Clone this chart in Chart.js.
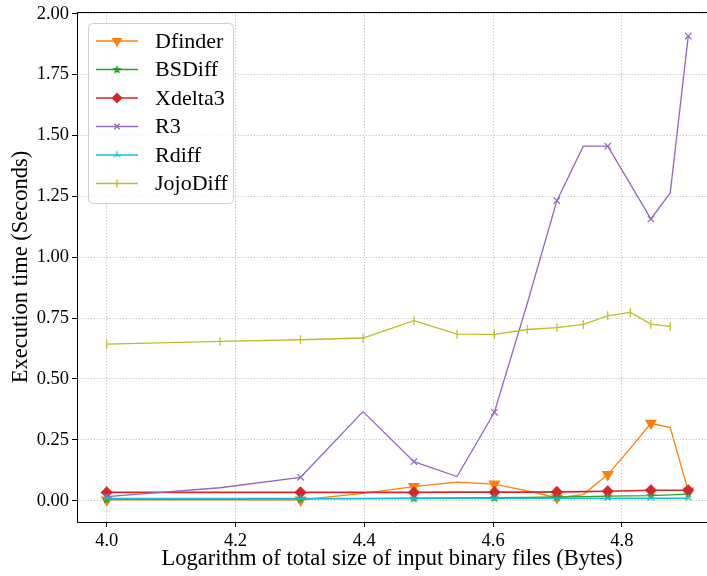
<!DOCTYPE html>
<html lang="en">
<head>
<meta charset="UTF-8">
<title>Execution time</title>
<style>
  body { margin: 0; background: #fff; }
  canvas { display: block; }
</style>
</head>
<body>
<canvas id="myChart" width="707" height="576"></canvas>

<script src="https://cdn.jsdelivr.net/npm/chart.js"></script>
<script>
// log10 of total input size (10k .. 80k bytes)
const logSize = [4.0, 4.176, 4.301, 4.398, 4.477, 4.544, 4.602, 4.653, 4.699, 4.740, 4.778, 4.813, 4.845, 4.875, 4.903]

// execution time in seconds
const dfinder  = [0.003, 0.003, 0.003, 0.030, 0.058, 0.076, 0.068, 0.040, 0.012, 0.025, 0.107, 0.215, 0.318, 0.300, 0.040]
const bsdiff   = [0.006, 0.006, 0.007, 0.008, 0.010, 0.011, 0.012, 0.013, 0.015, 0.017, 0.019, 0.020, 0.021, 0.024, 0.027]
const xdelta3  = [0.034, 0.034, 0.034, 0.034, 0.034, 0.035, 0.035, 0.035, 0.036, 0.037, 0.039, 0.041, 0.043, 0.043, 0.043]
const r3       = [0.017, 0.053, 0.096, 0.366, 0.160, 0.099, 0.363, 0.810, 1.232, 1.456, 1.456, 1.300, 1.157, 1.264, 1.908]
const rdiff    = [0.009, 0.009, 0.009, 0.009, 0.009, 0.010, 0.010, 0.010, 0.010, 0.010, 0.010, 0.010, 0.010, 0.010, 0.010]
const jojodiff = [0.643, 0.654, 0.661, 0.668, 0.739, 0.684, 0.683, 0.703, 0.711, 0.724, 0.759, 0.773, 0.725, 0.716, null]

const xTicks = [4.0, 4.2, 4.4, 4.6, 4.8]
const yTicks = [0, 0.25, 0.5, 0.75, 1.0, 1.25, 1.5, 1.75, 2.0]

const FONT = "'Liberation Serif', 'DejaVu Serif', serif"

// little canvas markers for the ones Chart.js doesn't have
function starMarker(color){
    const c = document.createElement('canvas')
    c.width = 11; c.height = 11
    const g = c.getContext('2d')
    g.fillStyle = color
    g.beginPath()
    for(let i = 0; i < 10; i++){
        const r = i % 2 === 0 ? 5 : 2.1
        const a = -Math.PI / 2 + i * Math.PI / 5
        g.lineTo(5.5 + r * Math.cos(a), 5.8 + r * Math.sin(a))
    }
    g.closePath()
    g.fill()
    return c
}
function triMarker(color){
    const c = document.createElement('canvas')
    c.width = 11; c.height = 11
    const g = c.getContext('2d')
    g.strokeStyle = color
    g.lineWidth = 1.2
    g.beginPath()
    for(const a of [-90, 30, 150]){
        const t = a * Math.PI / 180
        g.moveTo(5.5, 5.5)
        g.lineTo(5.5 + 4 * Math.cos(t), 5.5 + 4 * Math.sin(t))
    }
    g.stroke()
    return c
}

// markers on every other point (markevery=2)
function every2(r){
    return logSize.map((_, i) => i % 2 === 0 ? r : 0)
}
function pts(values){
    return logSize.map((x, i) => ({x, y: values[i]}))
}

const series = [
    {label: 'Dfinder',  data: dfinder,  color: '#ff7f0e', style: 'triangle', rot: 180, r: 5.8, w: 1.3},
    {label: 'BSDiff',   data: bsdiff,   color: '#2ca02c', style: starMarker('#2ca02c'), rot: 0, r: 5, w: 1.3},
    {label: 'Xdelta3',  data: xdelta3,  color: '#d62728', style: 'rectRot', rot: 0, r: 5.2, w: 1.6},
    {label: 'R3',       data: r3,       color: '#9467bd', style: 'crossRot', rot: 0, r: 4.5, w: 1.3},
    {label: 'Rdiff',    data: rdiff,    color: '#17becf', style: triMarker('#17becf'), rot: 0, r: 5, w: 1.3},
    {label: 'JojoDiff', data: jojodiff, color: '#bcbd22', style: 'line', rot: 90, r: 4.5, w: 1.3}
]

const topSpine = {
    id: 'topSpine',
    afterDraw(chart){
        const {ctx, chartArea} = chart
        ctx.save()
        ctx.strokeStyle = '#000'
        ctx.lineWidth = 1
        ctx.setLineDash([])
        ctx.beginPath()
        ctx.moveTo(chartArea.left, chartArea.top + 0.5)
        ctx.lineTo(chartArea.right, chartArea.top + 0.5)
        ctx.stroke()
        ctx.restore()
    }
}

// matplotlib-like legend box in the upper left
const boxLegend = {
    id: 'boxLegend',
    afterDraw(chart){
        const ctx = chart.ctx
        const x0 = 88, y0 = 23, w = 145, h = 180, rad = 4
        ctx.save()
        ctx.setLineDash([])
        ctx.beginPath()
        ctx.roundRect(x0 + 0.5, y0 + 0.5, w, h, rad)
        ctx.fillStyle = 'rgba(255,255,255,0.8)'
        ctx.fill()
        ctx.strokeStyle = '#d0d0d0'
        ctx.lineWidth = 1
        ctx.stroke()
        ctx.font = '22px ' + FONT
        ctx.textBaseline = 'middle'
        ctx.fillStyle = '#000'
        series.forEach((s, i) => {
            const y = 41 + i * 28.5
            ctx.strokeStyle = s.color
            ctx.lineWidth = s.w
            ctx.beginPath()
            ctx.moveTo(96, y)
            ctx.lineTo(138, y)
            ctx.stroke()
            Chart.helpers.drawPoint(ctx, {
                pointStyle: s.style, rotation: s.rot, radius: s.r * 0.85, borderWidth: 1.2
            }, 117, y)
            ctx.fillStyle = s.color
            ctx.fill()
            ctx.fillStyle = '#000'
            ctx.fillText(s.label, 155, y + 1)
        })
        ctx.restore()
    }
}

function displayChart(){
    const ctx = document.getElementById('myChart')
    const gridOpts = {
        color: '#b0b0b0',
        lineWidth: 0.8,
        tickColor: '#000',
        tickLength: 5,
        tickWidth: 1,
        tickBorderDash: []
    }
    const borderOpts = {display: true, color: '#000', width: 1, dash: [1.2, 2]}
    new Chart(ctx, {
        type: 'line',
        data: {
            datasets: series.map((s, i) => ({
                label: s.label,
                data: pts(s.data),
                borderColor: s.color,
                backgroundColor: s.color,
                borderWidth: s.w,
                pointStyle: s.style,
                rotation: s.rot,
                pointRadius: s.label === 'JojoDiff' ? s.r : every2(s.r),
                pointBorderWidth: 1.2,
                pointHoverRadius: 0,
                fill: false,
                tension: 0,
                clip: 8,
                order: series.length - i
            }))
        },
        options: {
            responsive: false,
            animation: false,
            devicePixelRatio: 1,
            layout: {autoPadding: false, padding: {top: 12, right: 0, left: 0, bottom: 0}},
            plugins: {
                legend: {display: false},
                tooltip: {enabled: false}
            },
            scales: {
                x: {
                    type: 'linear',
                    min: 3.9539,
                    max: 4.9321,
                    afterFit(scale){
                        scale.height = 54
                        scale.paddingLeft = 0
                        scale.paddingRight = 0
                    },
                    afterBuildTicks(scale){ scale.ticks = xTicks.map(v => ({value: v})) },
                    grid: gridOpts,
                    border: borderOpts,
                    ticks: {
                        color: '#000',
                        padding: 3,
                        maxRotation: 0,
                        font: {family: FONT, size: 18.5},
                        callback: v => v.toFixed(1)
                    },
                    title: {
                        display: true,
                        text: 'Logarithm of total size of input binary files (Bytes)',
                        color: '#000',
                        font: {family: FONT, size: 22.5},
                        padding: {top: 0, bottom: 3}
                    }
                },
                y: {
                    min: -0.0876,
                    max: 2.007,
                    afterFit(scale){
                        scale.width = 77
                        scale.paddingTop = 0
                        scale.paddingBottom = 0
                    },
                    afterBuildTicks(scale){ scale.ticks = yTicks.map(v => ({value: v})) },
                    grid: gridOpts,
                    border: borderOpts,
                    ticks: {
                        color: '#000',
                        padding: 3,
                        font: {family: FONT, size: 18.5},
                        callback: v => v.toFixed(2)
                    },
                    title: {
                        display: true,
                        text: 'Execution time (Seconds)',
                        color: '#000',
                        font: {family: FONT, size: 22.5},
                        padding: {top: 8, bottom: 0}
                    }
                }
            }
        },
        plugins: [topSpine, boxLegend]
    })
}

displayChart()
</script>
</body>
</html>
